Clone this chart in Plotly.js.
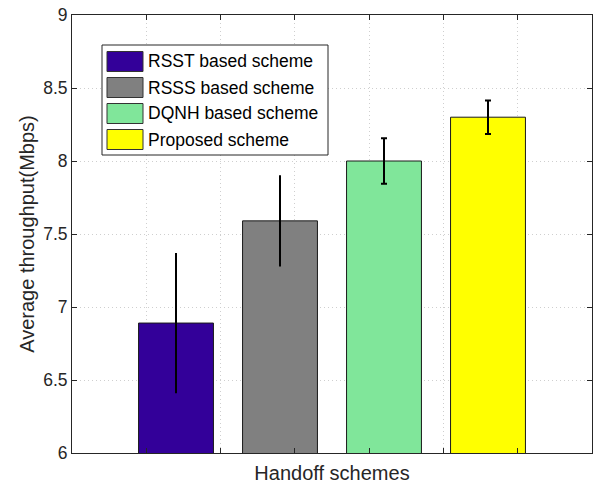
<!DOCTYPE html>
<html>
<head>
<meta charset="utf-8">
<script src="https://cdn.plot.ly/plotly-3.0.1.min.js"></script>
<style>html,body{margin:0;padding:0;background:#fff;}#chart{width:597px;height:485px;}</style>
</head>
<body>
<div id="chart"></div>
<script>
// ---- data ----
const schemes = ["RSST based scheme", "RSSS based scheme", "DQNH based scheme", "Proposed scheme"];
const throughput = [6.89, 7.59, 8.00, 8.30];
const errors = [0.48, 0.305, 0.155, 0.115];
const colors = ["#330099", "#808080", "#80E69A", "#FFFF00"];
const capWidths = [0, 1, 3, 3];
const yTicks = [6, 6.5, 7, 7.5, 8, 8.5, 9];
const xTitle = "Handoff schemes";
const yTitle = "Average throughput(Mbps)";

// ---- geometry helpers (pixel -> paper) ----
const W = 597, H = 485;
const L = 72, R = 592, T = 15, B = 453;
const px = x => (x - L) / (R - L);
const py = y => (B - y) / (B - T);

const font = "Liberation Sans, Arial, Helvetica, sans-serif";
const axisCol = "#262626";
const gridCol = "#cfcfcf";

const traces = schemes.map((name, i) => ({
  type: "bar",
  name: name,
  x: [i + 1],
  y: [throughput[i]],
  width: 0.72,
  marker: {color: colors[i], line: {color: "#1a1a1a", width: 1}},
  error_y: {type: "data", array: [errors[i]], visible: true, color: "#000", thickness: 2, width: capWidths[i]},
  showlegend: false,
  hoverinfo: "x+y"
}));

// custom legend (MATLAB style wide swatches)
const shapes = [{
  type: "rect", xref: "paper", yref: "paper",
  x0: px(102), x1: px(328), y0: py(155), y1: py(45),
  line: {color: axisCol, width: 1}, fillcolor: "#fff", layer: "above"
}];
const annotations = [];
schemes.forEach((name, i) => {
  const cy = 61.5 + 26 * i;
  shapes.push({
    type: "rect", xref: "paper", yref: "paper",
    x0: px(107), x1: px(143), y0: py(cy + 10), y1: py(cy - 10),
    line: {color: "#333", width: 1}, fillcolor: colors[i], layer: "above"
  });
  annotations.push({
    xref: "paper", yref: "paper", x: px(146), y: py(cy),
    xanchor: "left", yanchor: "middle", showarrow: false,
    text: name, font: {family: font, size: 17.5, color: "#000"}
  });
});

const layout = {
  width: W, height: H,
  margin: {l: L, r: W - R, t: T, b: H - B, pad: 0},
  paper_bgcolor: "#fff", plot_bgcolor: "#fff",
  bargap: 0,
  xaxis: {
    range: [0, 5],
    tickvals: [1, 2, 3, 4, 5, 6].map(k => k * 5 / 7),
    showticklabels: false,
    ticks: "inside", ticklen: 5, tickcolor: axisCol,
    showline: true, linecolor: axisCol, linewidth: 1, mirror: "allticks",
    showgrid: true, gridcolor: gridCol, griddash: "1px,3px", gridwidth: 1,
    zeroline: false, fixedrange: true,
    title: {text: xTitle, font: {family: font, size: 20, color: axisCol}, standoff: 12}
  },
  yaxis: {
    range: [6, 9],
    tickvals: yTicks,
    ticktext: yTicks.map(v => String(v)),
    ticks: "inside", ticklen: 5, tickcolor: axisCol,
    tickfont: {family: font, size: 17.5, color: axisCol},
    showline: true, linecolor: axisCol, linewidth: 1, mirror: "allticks",
    showgrid: true, gridcolor: gridCol, griddash: "1px,3px", gridwidth: 1,
    zeroline: false, fixedrange: true,
    title: {text: yTitle, font: {family: font, size: 20, color: axisCol}, standoff: 3}
  },
  shapes: shapes,
  annotations: annotations,
  showlegend: false
};

Plotly.newPlot("chart", traces, layout, {staticPlot: true, displayModeBar: false});
</script>
</body>
</html>
